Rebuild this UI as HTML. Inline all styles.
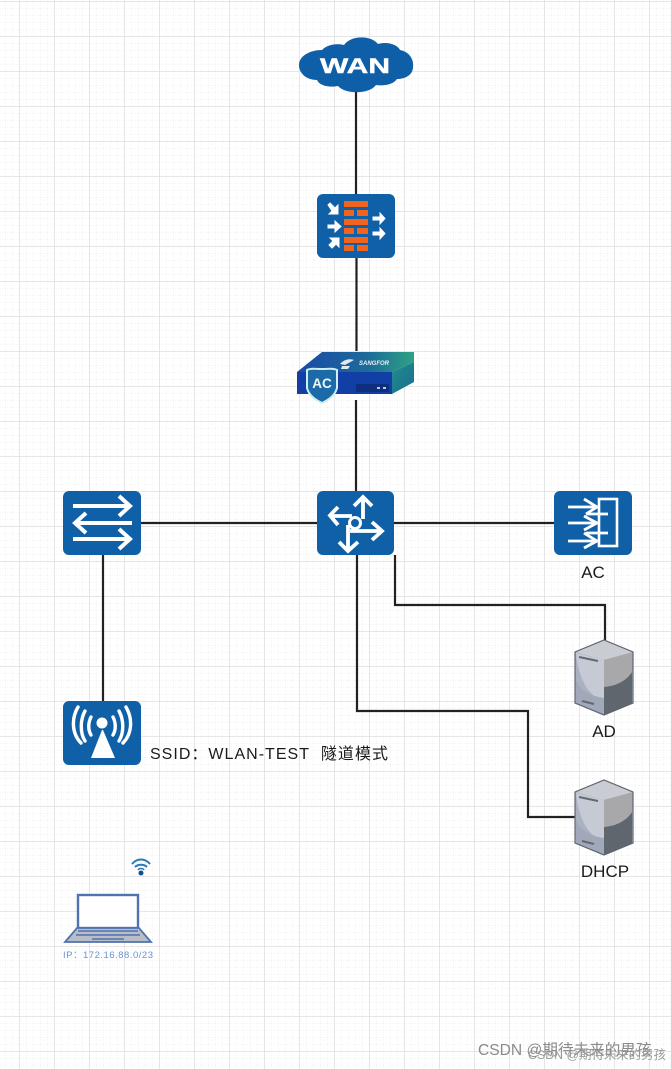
<!DOCTYPE html>
<html><head><meta charset="utf-8">
<style>html,body{margin:0;padding:0;background:#fff}svg{display:block;filter:blur(.35px)}
text{font-family:"Liberation Sans","Noto Sans CJK SC",sans-serif}</style></head>
<body>
<svg width="671" height="1069" viewBox="0 0 671 1069" xmlns="http://www.w3.org/2000/svg">
<defs>
<pattern id="minor" x="5" y="1" width="7" height="7" patternUnits="userSpaceOnUse"><path d="M0 0V7M0 0H7" stroke="#ececec" stroke-width="1" fill="none" stroke-dasharray="1 1"/></pattern>
<pattern id="major" x="19" y="1" width="35" height="35" patternUnits="userSpaceOnUse"><path d="M0 0V35M0 0H35" stroke="#dedede" stroke-width="1.500" fill="none"/></pattern>
<linearGradient id="top" x1="0" y1="0" x2="1" y2="0"><stop offset="0" stop-color="#1a4aa8"/><stop offset=".6" stop-color="#1c6a9a"/><stop offset="1" stop-color="#2fa283"/></linearGradient>
<linearGradient id="side" x1="0" y1="0" x2="1" y2="1"><stop offset="0" stop-color="#1f8f8a"/><stop offset="1" stop-color="#1d6b93"/></linearGradient>
<g id="server">
<path d="M0 12 29 0 58 12 58 63 29 75 0 63Z" fill="#aab2c2" stroke="#5f6670" stroke-width="1"/>
<path d="M0 12 29 0 58 12 29 20Z" fill="#c9ccd2"/>
<path d="M1 13 29 20V60C14 58 4 40 1 13Z" fill="#c6cad4"/>
<path d="M29 20 58 12V30C52 40 42 46 29 47Z" fill="#a9a9ab"/>
<path d="M29 47C42 46 52 40 57 32V63L29 75Z" fill="#5f666d"/>
<path d="M29 20V47L57 32V13Z" fill="#a8a8aa"/>
<path d="M1 40C5 50 15 56 29 58V74L1 63Z" fill="#a0a8ba"/>
<path d="M4 17 23 21M7 61 19 64" stroke="#5f6a72" stroke-width="2" fill="none"/>
<path d="M0 12 29 0 58 12 58 63 29 75 0 63Z" fill="none" stroke="#5f6670" stroke-width="1.200"/>
</g>
</defs>
<rect width="671" height="1069" fill="#fff"/>
<rect width="671" height="1069" fill="url(#minor)"/>
<rect width="671" height="1069" fill="url(#major)"/>

<!-- connectors -->
<g stroke="#222" stroke-width="2.200" fill="none">
<path d="M356 92V194M356.500 258V351M356 400V491"/>
<path d="M141 523H317M394 523H554"/>
<path d="M103 555V701"/>
<path d="M395 555V605H605V641"/>
<path d="M357 555V711H528V817H576"/>
</g>

<!-- WAN cloud -->
<path d="M322 50C329 43 340 44 344 45C351 35 371 35 378 44C388 41 398 45 400 50C410 52 414 60 413 67C413 75 405 79 397 79C393 85 383 86 376 85C370 94 346 95 338 86C328 88 319 85 317 80C306 80 299 73 299 65C299 56 310 50 322 50Z" fill="#0f5fa8"/>
<text x="355" y="73" text-anchor="middle" font-size="21" font-weight="700" fill="#fff" stroke="#fff" stroke-width=".4" textLength="70" lengthAdjust="spacingAndGlyphs">WAN</text>

<!-- firewall -->
<rect x="317" y="194" width="78" height="64" rx="6" fill="#1060a8"/>
<g fill="#f0641e">
<rect x="344" y="201" width="24" height="6"/><rect x="344" y="210" width="10" height="6"/><rect x="357" y="210" width="11" height="6"/>
<rect x="344" y="219" width="24" height="6"/><rect x="344" y="228" width="10" height="6"/><rect x="357" y="228" width="11" height="6"/>
<rect x="344" y="237" width="24" height="6"/><rect x="344" y="245" width="10" height="6"/><rect x="357" y="245" width="11" height="6"/>
</g>
<g fill="#fff" stroke="#fff" stroke-width="1">
<path d="M328 205 330 203 335 208 338 205V214H329L332 211Z"/>
<path d="M328 225H335V221L341 226.500 335 232V228H328Z"/>
<path d="M329 245 333 241 330 238H339V247L336 244 332 248Z"/>
<path d="M373 217H380V213L385 218.500 380 224V220H373Z"/>
<path d="M373 232H380V228L385 233.500 380 239V235H373Z"/>
</g>

<!-- AC device -->
<path d="M297 372 322 352 414 352 414 362 392 372Z" fill="url(#top)"/>
<path d="M392 372 414 362V382L392 394Z" fill="url(#side)"/>
<path d="M297 372H392V394H297Z" fill="#123fa6"/>
<rect x="356" y="384" width="33" height="8" fill="#0e2f7e"/>
<path d="M340 364C345 358 352 359 354 360L345 365ZM342 366H350L348 369H341Z" fill="#dfe8ea"/>
<text x="359" y="365" font-size="6" font-weight="700" font-style="italic" fill="#e6f0f0">SANGFOR</text>
<path d="M322 369C315 369 310 368 307 370V388C309 396 316 400 322 403C328 400 335 396 337 388V370C334 368 329 369 322 369Z" fill="#1c6aa8" stroke="#cfeeee" stroke-width="2"/>
<text x="322" y="388" text-anchor="middle" font-size="13.500" font-weight="700" fill="#eef6fa">AC</text>
<rect x="377" y="387" width="3" height="2" fill="#bcd"/><rect x="383" y="387" width="3" height="2" fill="#bcd"/>

<!-- router -->
<rect x="317" y="491" width="77" height="64" rx="6" fill="#1060a8"/>
<circle cx="355" cy="523" r="5.500" fill="none" stroke="#fff" stroke-width="3"/>
<g stroke="#fff" stroke-width="3.800" fill="none">
<path d="M363 499V519M354 506 363 497 372 506"/>
<path d="M332 516H352M338 507 330 515.500 338 525"/>
<path d="M350 531H381M372 522 382 531 372 540"/>
<path d="M348 525V549M339 542 348 551 358 542"/>
</g>

<!-- switch -->
<rect x="63" y="491" width="78" height="64" rx="6" fill="#1060a8"/>
<g stroke="#fff" stroke-width="4" fill="none">
<path d="M73 506H129M119 496 130 506 119 516"/>
<path d="M132 523H76M86 513 75 523 86 533"/>
<path d="M73 539H129M119 529 130 539 119 549"/>
</g>

<!-- right box -->
<rect x="554" y="491" width="78" height="64" rx="6" fill="#1060a8"/>
<rect x="599" y="499" width="18" height="47" fill="none" stroke="#fff" stroke-width="2.600"/>
<g stroke="#fff" stroke-width="2.800" fill="none">
<path d="M568 507H598M568 523H598M568 541H598M586 514H608M586 533H608"/>
<path d="M584 499 597 507 586 514M584 516 597 523 584 530M584 533 597 541 584 548"/>
</g>
<text x="593" y="578" text-anchor="middle" font-size="17" fill="#1a1a1a">AC</text>

<!-- servers -->
<use href="#server" x="575" y="640"/>
<text x="604" y="737" text-anchor="middle" font-size="17" fill="#1a1a1a">AD</text>
<use href="#server" x="575" y="780"/>
<text x="605" y="877" text-anchor="middle" font-size="17" fill="#1a1a1a">DHCP</text>

<!-- AP -->
<rect x="63" y="701" width="78" height="64" rx="6" fill="#1060a8"/>
<path d="M91 758 L102 730H103L115 758Z" fill="#fff"/>
<circle cx="102" cy="723" r="5.500" fill="#fff"/>
<g stroke="#fff" stroke-width="3.400" fill="none" stroke-linecap="round">
<path d="M91 717C88 723 88 730 91 735M113 717C116 723 116 730 113 735"/>
<path d="M85 711C80 720 80 733 85 741M119 711C124 720 124 733 119 741"/>
<path d="M78 707C71 719 72 734 81 743M126 707C133 719 132 734 123 743"/>
</g>
<text x="150" y="759" font-size="16" fill="#1a1a1a" textLength="238" lengthAdjust="spacing">SSID：WLAN-TEST&#160;&#160;隧道模式</text>

<!-- wifi -->
<g stroke="#2a7ab8" stroke-width="2" fill="none">
<path d="M132 864C137 858 145 858 150 864"/><path d="M135 867C138 864 144 864 147 867"/>
</g>
<path d="M138 870C139 868 143 868 144 870" stroke="#2a7ab8" stroke-width="1.500" fill="none"/>
<circle cx="141" cy="873" r="2.500" fill="#12508f"/>

<!-- laptop -->
<rect x="78" y="895" width="60" height="33" fill="#fff" stroke="#4f72b0" stroke-width="2.400"/>
<path d="M77 928H139L151 942H65Z" fill="#b8bdc6" stroke="#4f72b0" stroke-width="1.800"/>
<path d="M78 931H138M76 935H140M92 939H124" stroke="#4f72b0" stroke-width="1.500"/>
<text x="63" y="958" font-size="9.500" fill="#6a93d6" textLength="90" lengthAdjust="spacing">IP：172.16.88.0/23</text>

<!-- watermark -->
<text x="478" y="1055" font-size="15.600" fill="#8a8a8a">CSDN @期待未来的男孩</text>
<text x="528" y="1059" font-size="12.400" fill="#9a9a9a">CSDN @期待未来的男孩</text>
</svg>
</body></html>
